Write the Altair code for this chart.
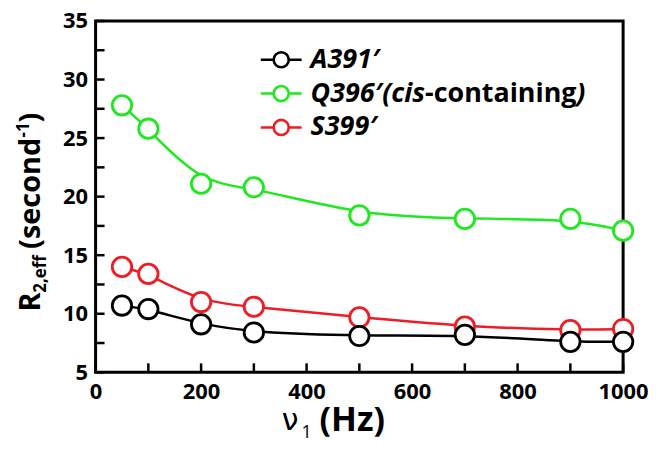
import altair as alt
import pandas as pd

# ---- data ----
freq = [50, 100, 200, 300, 500, 700, 900, 1000]
a391 = [10.7, 10.4, 9.1, 8.4, 8.1, 8.2, 7.6, 7.6]
q396 = [27.8, 25.8, 21.1, 20.8, 18.4, 18.1, 18.1, 17.1]
s399 = [14.0, 13.4, 11.0, 10.6, 9.7, 8.9, 8.6, 8.7]

series_names = ["A391′", "Q396′(cis-containing)", "S399′"]
series_colors = ["#000000", "#1ee81e", "#ee1c24"]

x_ticks = [0, 100, 200, 300, 400, 500, 600, 700, 800, 900, 1000]
y_ticks = [5, 7.5, 10, 12.5, 15, 17.5, 20, 22.5, 25, 27.5, 30, 32.5, 35]
x_domain = [0, 1000]
y_domain = [5, 35]

# draw order: green, red, black on top
rows = []
for name, vals in [(series_names[1], q396), (series_names[2], s399), (series_names[0], a391)]:
    for f, v in zip(freq, vals):
        rows.append({"series": name, "freq": f, "r2": v})
df = pd.DataFrame(rows)

FONT = "Open Sans"
xs = alt.Scale(domain=x_domain, nice=False, zero=False)
ys = alt.Scale(domain=y_domain, nice=False, zero=False)
cs = alt.Scale(domain=series_names, range=series_colors)

ax_x = alt.Axis(values=x_ticks, labelExpr="datum.value % 200 == 0 ? datum.label : ''",
                ticks=False, domain=False, grid=False, labelFlush=False, title=None,
                labelOverlap=False, labelFont=FONT, labelFontWeight="bold",
                labelFontSize=22, labelPadding=9, labelColor="black", format="d")
ax_y = alt.Axis(values=y_ticks, labelExpr="datum.value % 5 == 0 ? datum.label : ''",
                ticks=False, domain=False, grid=False, labelFlush=False, title=None,
                labelOverlap=False, labelFont=FONT, labelFontWeight="bold",
                labelFontSize=22, labelPadding=8, labelColor="black")

frame = alt.Chart(pd.DataFrame({"x0": [x_domain[0]], "x1": [x_domain[1]],
                                "y0": [y_domain[0]], "y1": [y_domain[1]]})).mark_rect(
    filled=False, stroke="black", strokeWidth=3, fillOpacity=0
).encode(
    x=alt.X("x0:Q", scale=xs, axis=ax_x, title=None), x2="x1:Q",
    y=alt.Y("y0:Q", scale=ys, axis=ax_y, title=None), y2="y1:Q",
)

xt = alt.Chart(pd.DataFrame({"t": x_ticks, "b": [y_domain[0]] * len(x_ticks)})).mark_tick(
    orient="vertical", size=9, thickness=2.5, yOffset=-4.5, color="black", opacity=1
).encode(x=alt.X("t:Q", scale=xs, axis=ax_x, title=None),
         y=alt.Y("b:Q", scale=ys, axis=ax_y, title=None))

yt = alt.Chart(pd.DataFrame({"t": y_ticks, "b": [x_domain[0]] * len(y_ticks)})).mark_tick(
    orient="horizontal", size=9, thickness=2.5, xOffset=4.5, color="black", opacity=1
).encode(y=alt.Y("t:Q", scale=ys, axis=ax_y, title=None),
         x=alt.X("b:Q", scale=xs, axis=ax_x, title=None))

lines = alt.Chart(df).mark_line(interpolate="basis", strokeWidth=2.5).encode(
    x=alt.X("freq:Q", scale=xs, axis=ax_x, title=None),
    y=alt.Y("r2:Q", scale=ys, axis=ax_y, title=None),
    color=alt.Color("series:N", scale=cs, legend=None),
)

points = alt.Chart(df).mark_point(
    shape="circle", filled=True, fill="white", size=380, strokeWidth=2.8, opacity=1
).encode(
    x=alt.X("freq:Q", scale=xs, axis=ax_x, title=None),
    y=alt.Y("r2:Q", scale=ys, axis=ax_y, title=None),
    stroke=alt.Stroke("series:N", scale=cs, legend=None),
)

# ---- custom legend ----
leg_y = [39, 73, 107]
one = pd.DataFrame({"k": [0]})
legend_layers = []
for name, col, yy in zip(series_names, series_colors, leg_y):
    legend_layers.append(alt.Chart(one).mark_rule(color=col, strokeWidth=2.5).encode(
        x=alt.value(166), x2=alt.value(207), y=alt.value(yy)))
    legend_layers.append(alt.Chart(one).mark_point(
        shape="circle", filled=True, fill="white", stroke=col, size=230, strokeWidth=2.6, opacity=1
    ).encode(x=alt.value(186.5), y=alt.value(yy)))

def txt(s, x, y, size, style="normal", weight="bold", angle=0, align="left",
        baseline="middle", font=FONT):
    return alt.Chart(one).mark_text(
        text=s, font=font, fontSize=size, fontStyle=style, fontWeight=weight,
        angle=angle, align=align, baseline=baseline, color="black"
    ).encode(x=alt.value(x), y=alt.value(y))

legend_layers.append(txt("A391′", 216, leg_y[0], 27, style="italic"))
legend_layers.append(txt("Q396′(cis", 216, leg_y[1], 27, style="italic"))
legend_layers.append(txt("-containing", 331, leg_y[1], 27))
legend_layers.append(txt(")", 483, leg_y[1], 27, style="italic"))
legend_layers.append(txt("S399′", 216, leg_y[2], 27, style="italic"))

# ---- axis titles ----
titles = [
    txt("ν", 187, 411, 30, weight="normal", baseline="alphabetic", font="DejaVu Sans"),
    txt("1", 207, 419, 18, weight="normal", baseline="alphabetic"),
    txt("(Hz)", 225, 412, 34, baseline="alphabetic"),
    txt("R", -56, 292, 29, angle=270, baseline="alphabetic"),
    txt("2,eff", -50, 273, 17, angle=270, baseline="alphabetic"),
    txt("(second", -56, 229, 29, angle=270, baseline="alphabetic"),
    txt("-1", -67, 117, 17, angle=270, baseline="alphabetic"),
    txt(")", -56, 102, 29, angle=270, baseline="alphabetic"),
]

chart = alt.layer(frame, xt, yt, lines, points, *legend_layers, *titles).properties(
    width=530, height=353,
    autosize=alt.AutoSizeParams(type="none"),
    padding={"left": 88, "top": 12, "right": 25, "bottom": 69},
).configure_view(stroke=None)

chart.save("out.html", embed_options={"renderer": "svg", "actions": False})
